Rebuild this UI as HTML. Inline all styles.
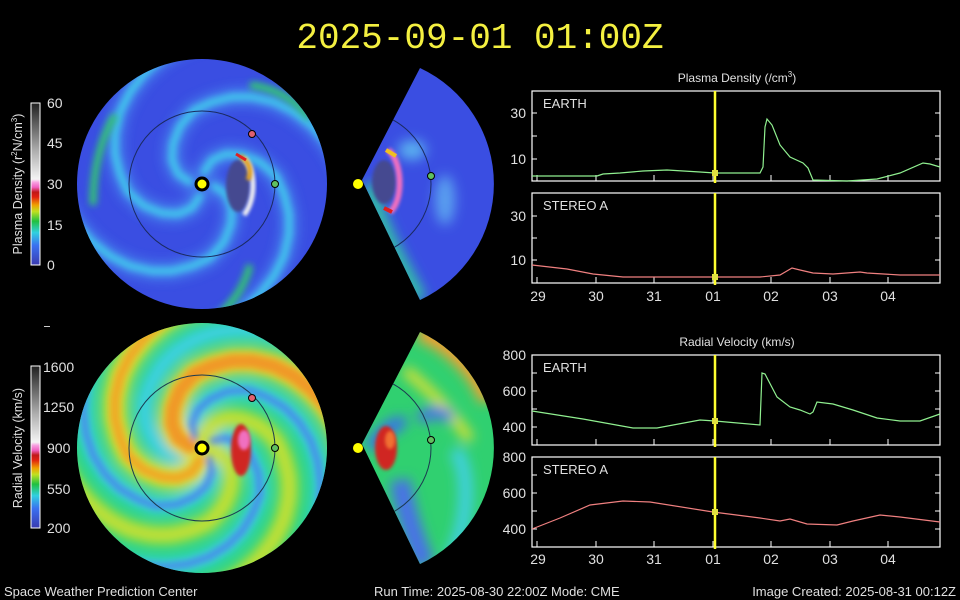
<!DOCTYPE html>
<html><head><meta charset="utf-8"><style>
html,body{margin:0;padding:0;background:#000;}
svg{display:block}
text{font-family:"Liberation Sans",sans-serif;fill:#e0e0e0}
</style></head><body>
<svg width="960" height="600" viewBox="0 0 960 600" xmlns="http://www.w3.org/2000/svg">
<defs>
<filter id="b6" x="-50%" y="-50%" width="200%" height="200%"><feGaussianBlur stdDeviation="6"/></filter>
<filter id="b4" x="-50%" y="-50%" width="200%" height="200%"><feGaussianBlur stdDeviation="3.5"/></filter>
<filter id="b2" x="-50%" y="-50%" width="200%" height="200%"><feGaussianBlur stdDeviation="1.5"/></filter>
<clipPath id="c1"><circle cx="202" cy="184" r="125"/></clipPath>
<clipPath id="c2"><circle cx="202" cy="448" r="125"/></clipPath>
<clipPath id="w1"><path d="M362,180 L420,68 A128,128 0 0 1 420,300 Z"/></clipPath>
<clipPath id="w2"><path d="M362,444 L420,332 A128,128 0 0 1 420,564 Z"/></clipPath>
<polyline id="arm" points="12,2 24,10 30,24 29,40 22,58 8,74 -10,82 -30,87 -50,87 -72,82 -92,72 -110,58 -126,40 -138,20 -145,0 -150,-25 -152,-55 -150,-80" fill="none" stroke-linejoin="round" stroke-linecap="round"/>
<linearGradient id="cb1" x1="0" y1="1" x2="0" y2="0">
<stop offset="0" stop-color="#3a3ab0"/><stop offset="0.12" stop-color="#3a70f0"/><stop offset="0.2" stop-color="#30d0e0"/><stop offset="0.27" stop-color="#20c040"/><stop offset="0.33" stop-color="#c0e020"/><stop offset="0.37" stop-color="#f0a000"/><stop offset="0.42" stop-color="#e02010"/><stop offset="0.45" stop-color="#c01818"/><stop offset="0.48" stop-color="#f060c0"/><stop offset="0.51" stop-color="#f8a0e0"/><stop offset="0.53" stop-color="#f4f4f4"/><stop offset="0.7" stop-color="#b0b0b0"/><stop offset="1" stop-color="#202020"/>
</linearGradient>
</defs>

<text x="480" y="48" text-anchor="middle" style="font-family:'Liberation Mono',monospace;font-size:36px;fill:#f4f040">2025-09-01 01:00Z</text>

<!-- top disk -->
<g clip-path="url(#c1)">
<rect x="70" y="55" width="270" height="260" fill="#3a4ee2"/>
<g filter="url(#b6)" opacity="0.85">
<use href="#arm" transform="translate(202,184) rotate(0)" stroke="#4a90f0" stroke-width="16"/>
<use href="#arm" transform="translate(202,184) rotate(90)" stroke="#4a90f0" stroke-width="16"/>
<use href="#arm" transform="translate(202,184) rotate(180)" stroke="#4a90f0" stroke-width="16"/>
<use href="#arm" transform="translate(202,184) rotate(270)" stroke="#4a90f0" stroke-width="16"/>
</g>
<g filter="url(#b4)">
<use href="#arm" transform="translate(202,184) rotate(0)" stroke="#40d0ec" stroke-width="6"/>
<use href="#arm" transform="translate(202,184) rotate(90)" stroke="#40d0ec" stroke-width="6"/>
<use href="#arm" transform="translate(202,184) rotate(180)" stroke="#40d0ec" stroke-width="6"/>
<use href="#arm" transform="translate(202,184) rotate(270)" stroke="#40d0ec" stroke-width="6"/>
</g>
<g filter="url(#b4)" fill="none" stroke="#30c870" stroke-width="7">
<path d="M93,205 C93,170 100,140 115,115"/>
<path d="M250,85 C275,88 295,100 310,118"/>
<path d="M250,265 C245,285 235,300 220,315"/>
</g>
<circle cx="202" cy="184" r="73" fill="none" stroke="#1a2a60" stroke-width="1"/>
<ellipse cx="238" cy="186" rx="12" ry="26" fill="#454a90" filter="url(#b2)"/>
<path d="M244,158 C256,170 256,200 244,215" fill="none" stroke="#f0f0f0" stroke-width="5" filter="url(#b2)"/>
<path d="M240,156 C250,162 252,172 248,180" fill="none" stroke="#e0a020" stroke-width="5" filter="url(#b2)"/>
<path d="M236,154 L246,160" stroke="#e02020" stroke-width="3"/>
</g>
<circle cx="252" cy="134" r="3.5" fill="#e06070" stroke="#000"/>
<circle cx="275" cy="184" r="3.5" fill="#60c060" stroke="#000"/>
<circle cx="202" cy="184" r="6" fill="#ffff00" stroke="#000" stroke-width="3"/>

<!-- top wedge -->
<g clip-path="url(#w1)">
<rect x="355" y="55" width="150" height="250" fill="#3a4ee2"/>
<g filter="url(#b6)" fill="none">
<path d="M370,184 C380,230 400,260 420,300" stroke="#30c8a0" stroke-width="14"/>
<ellipse cx="445" cy="200" rx="10" ry="25" fill="#5aa0f0" stroke="none"/>
<ellipse cx="412" cy="150" rx="14" ry="10" fill="#5ab0f0" stroke="none"/>
</g>
<circle cx="358" cy="184" r="73" fill="none" stroke="#1a2a60" stroke-width="1"/>
<ellipse cx="384" cy="182" rx="12" ry="22" fill="#454a90" filter="url(#b2)"/>
<path d="M388,150 C402,160 404,200 390,212" fill="none" stroke="#f070c0" stroke-width="6" filter="url(#b2)"/>
<path d="M386,150 L396,156" stroke="#f0c020" stroke-width="4"/>
<path d="M384,208 L392,212" stroke="#e02020" stroke-width="4"/>
</g>
<circle cx="431" cy="176" r="3.5" fill="#60c060" stroke="#000"/>
<circle cx="358" cy="184" r="5" fill="#ffff00"/>

<!-- bottom disk -->
<g clip-path="url(#c2)">
<rect x="70" y="320" width="270" height="260" fill="#20d47c"/>
<g filter="url(#b6)">
<use href="#arm" transform="translate(202,448) rotate(45)" stroke="#40d0e8" stroke-width="16"/>
<use href="#arm" transform="translate(202,448) rotate(135)" stroke="#40d0e8" stroke-width="16"/>
<use href="#arm" transform="translate(202,448) rotate(225)" stroke="#40d0e8" stroke-width="16"/>
<use href="#arm" transform="translate(202,448) rotate(315)" stroke="#40d0e8" stroke-width="16"/>
<use href="#arm" transform="translate(202,448) rotate(0)" stroke="#c8e030" stroke-width="18"/>
<use href="#arm" transform="translate(202,448) rotate(90)" stroke="#d8e030" stroke-width="24"/>
<use href="#arm" transform="translate(202,448) rotate(180)" stroke="#e8d830" stroke-width="26"/>
<use href="#arm" transform="translate(202,448) rotate(270)" stroke="#c8e030" stroke-width="18"/>
</g>
<g filter="url(#b4)">
<use href="#arm" transform="translate(202,448) rotate(45)" stroke="#4a78ee" stroke-width="5"/>
<use href="#arm" transform="translate(202,448) rotate(225)" stroke="#4a78ee" stroke-width="5"/>
<use href="#arm" transform="translate(202,448) rotate(315)" stroke="#4a78ee" stroke-width="5"/>
<use href="#arm" transform="translate(202,448) rotate(180)" stroke="#f09828" stroke-width="14"/>
<use href="#arm" transform="translate(202,448) rotate(90)" stroke="#f0a828" stroke-width="10"/>
</g>
<circle cx="202" cy="448" r="73" fill="none" stroke="#1a3a50" stroke-width="1"/>
<ellipse cx="241" cy="450" rx="10" ry="26" fill="#d02820" filter="url(#b2)"/>
<ellipse cx="244" cy="440" rx="6" ry="10" fill="#f070c0" filter="url(#b2)"/>
</g>
<circle cx="252" cy="398" r="3.5" fill="#e06070" stroke="#000"/>
<circle cx="275" cy="448" r="3.5" fill="#60c060" stroke="#000"/>
<circle cx="202" cy="448" r="6" fill="#ffff00" stroke="#000" stroke-width="3"/>

<!-- bottom wedge -->
<g clip-path="url(#w2)">
<rect x="355" y="320" width="150" height="250" fill="#30d070"/>
<g filter="url(#b6)" fill="none">
<path d="M420,330 C450,340 480,370 490,400" stroke="#f0a030" stroke-width="22"/>
<path d="M405,370 C430,390 450,410 470,440" stroke="#e0e030" stroke-width="10"/>
<path d="M370,448 C385,430 395,420 405,425" stroke="#3a70e8" stroke-width="14"/>
<path d="M400,480 C405,510 415,540 425,565" stroke="#4a70e8" stroke-width="20"/>
<path d="M420,420 C430,410 445,410 450,420" stroke="#4a70e8" stroke-width="12"/>
<path d="M455,450 C470,470 470,520 450,560" stroke="#40d0e0" stroke-width="14"/>
</g>
<circle cx="358" cy="448" r="73" fill="none" stroke="#1a3a50" stroke-width="1"/>
<ellipse cx="386" cy="448" rx="11" ry="22" fill="#d02820" filter="url(#b2)"/>
<ellipse cx="390" cy="440" rx="5" ry="9" fill="#f07030" filter="url(#b2)"/>
</g>
<circle cx="431" cy="440" r="3.5" fill="#60c060" stroke="#000"/>
<circle cx="358" cy="448" r="5" fill="#ffff00"/>

<!-- colorbars -->
<rect x="31" y="103" width="9" height="162" fill="url(#cb1)" stroke="#fff" stroke-width="1"/>
<g style="font-size:14px">
<text x="47" y="108">60</text><text x="47" y="148">45</text><text x="47" y="189">30</text><text x="47" y="230">15</text><text x="47" y="270">0</text>
</g>
<text transform="translate(22,184) rotate(-90)" text-anchor="middle" style="font-size:12.5px">Plasma Density (r<tspan dy="-5" style="font-size:8px">2</tspan><tspan dy="5">N/cm</tspan><tspan dy="-5" style="font-size:8px">3</tspan><tspan dy="5">)</tspan></text>
<rect x="44" y="326" width="6" height="1" fill="#ccc"/>
<rect x="31" y="366" width="9" height="162" fill="url(#cb1)" stroke="#fff" stroke-width="1"/>
<g style="font-size:14px">
<text x="43" y="372">1600</text><text x="43" y="412">1250</text><text x="47" y="453">900</text><text x="47" y="494">550</text><text x="47" y="533">200</text>
</g>
<text transform="translate(22,448) rotate(-90)" text-anchor="middle" style="font-size:12.5px">Radial Velocity (km/s)</text>

<!-- plots -->
<g style="font-size:12px">
<text x="737" y="82" text-anchor="middle">Plasma Density (/cm<tspan dy="-5" style="font-size:8px">3</tspan><tspan dy="5">)</tspan></text>
<text x="737" y="346" text-anchor="middle">Radial Velocity (km/s)</text>
</g>
<g fill="none" stroke="#fff" stroke-width="1.2">
<rect x="532" y="91" width="408" height="90"/>
<rect x="532" y="193" width="408" height="90"/>
<rect x="532" y="355" width="408" height="90"/>
<rect x="532" y="457" width="408" height="90"/>
</g>
<g stroke="#fff" stroke-width="1">
<path d="M532,113h5M532,136h5M532,159h5M940,113h-5M940,136h-5M940,159h-5"/>
<path d="M532,216h5M532,238h5M532,260h5M940,216h-5M940,238h-5M940,260h-5"/>
<path d="M532,373h5M532,391h5M532,409h5M532,427h5M940,373h-5M940,391h-5M940,409h-5M940,427h-5"/>
<path d="M532,475h5M532,493h5M532,511h5M532,529h5M940,475h-5M940,493h-5M940,511h-5M940,529h-5"/>
<path d="M537,181v-6M596,181v-6M654,181v-6M713,181v-6M771,181v-6M830,181v-6M888,181v-6"/>
<path d="M537,283v-6M596,283v-6M654,283v-6M713,283v-6M771,283v-6M830,283v-6M888,283v-6"/>
<path d="M537,445v-6M596,445v-6M654,445v-6M713,445v-6M771,445v-6M830,445v-6M888,445v-6"/>
<path d="M537,547v-6M596,547v-6M654,547v-6M713,547v-6M771,547v-6M830,547v-6M888,547v-6"/>
</g>
<g style="font-size:14px" text-anchor="end">
<text x="526" y="118">30</text><text x="526" y="164">10</text>
<text x="526" y="221">30</text><text x="526" y="265">10</text>
<text x="526" y="360">800</text><text x="526" y="396">600</text><text x="526" y="432">400</text>
<text x="526" y="462">800</text><text x="526" y="498">600</text><text x="526" y="534">400</text>
</g>
<g style="font-size:14px" text-anchor="middle">
<text x="538" y="301">29</text><text x="596" y="301">30</text><text x="654" y="301">31</text><text x="713" y="301">01</text><text x="771" y="301">02</text><text x="830" y="301">03</text><text x="888" y="301">04</text>
<text x="538" y="564">29</text><text x="596" y="564">30</text><text x="654" y="564">31</text><text x="713" y="564">01</text><text x="771" y="564">02</text><text x="830" y="564">03</text><text x="888" y="564">04</text>
</g>
<g style="font-size:13px">
<text x="543" y="108">EARTH</text><text x="543" y="210">STEREO A</text>
<text x="543" y="372">EARTH</text><text x="543" y="474">STEREO A</text>
</g>
<g fill="none" stroke-width="1.2">
<polyline stroke="#90f090" points="532,176 597,176 603,174 620,173 643,171 667,170 700,172 715,173 720,173 760,173 763,167 765,127 767,119 772,125 780,145 790,157 803,163 808,168 813,180 847,181 877,179 900,173 923,163 930,164 940,167"/>
<polyline stroke="#f08080" points="532,265 567,269 593,274 623,277 653,277 760,277 780,275 792,268 800,270 813,273 833,274 860,272 867,273 900,275 940,275"/>
<polyline stroke="#90f090" points="532,411 583,419 633,428 657,428 700,420 715,421 760,425 762,373 765,374 777,397 790,407 800,410 810,414 813,412 817,402 833,404 853,410 877,418 900,421 920,421 940,414"/>
<polyline stroke="#f08080" points="532,529 560,518 590,505 623,501 650,502 713,512 760,518 780,521 790,519 807,524 837,525 853,521 880,515 900,517 940,522"/>
</g>
<g stroke="#ffff30" stroke-width="2.5">
<path d="M715,91v92M715,193v92M715,355v92M715,457v92"/>
</g>
<g fill="#e0e040">
<rect x="712" y="170" width="6" height="6"/><rect x="712" y="274" width="6" height="6"/>
<rect x="712" y="418" width="6" height="6"/><rect x="712" y="509" width="6" height="6"/>
</g>

<!-- footer -->
<g style="font-size:13px">
<text x="4" y="596">Space Weather Prediction Center</text>
<text x="374" y="596">Run Time: 2025-08-30 22:00Z  Mode: CME</text>
<text x="956" y="596" text-anchor="end">Image Created: 2025-08-31 00:12Z</text>
</g>
</svg>
</body></html>
